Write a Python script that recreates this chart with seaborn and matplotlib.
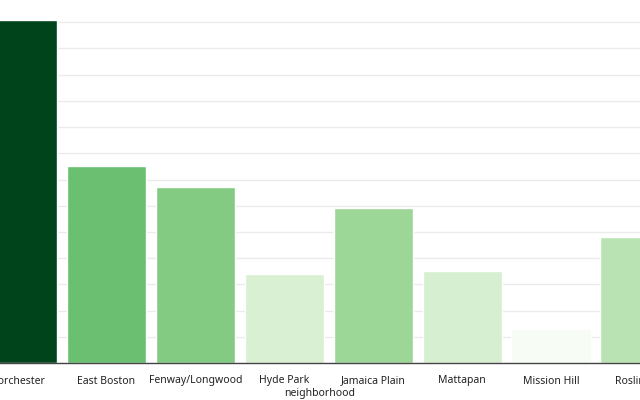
import matplotlib
matplotlib.use("Agg")
import matplotlib.pyplot as plt
import seaborn as sns
import pandas as pd

# Datos
neighborhoods = ["Dorchester", "East Boston", "Fenway/Longwood", "Hyde Park",
                 "Jamaica Plain", "Mattapan", "Mission Hill", "Roslindale"]
counts = [131, 75, 67, 34, 59, 35, 13, 48]

df = pd.DataFrame({"neighborhood": neighborhoods, "count": counts})

sns.set_style("white")
plt.rcParams["font.family"] = ["Noto Sans", "DejaVu Sans"]

fig = plt.figure(figsize=(6.4, 4), dpi=100)
ax = fig.add_axes([0, 0.0925, 1, 0.9075])

sns.barplot(data=df, x="neighborhood", y="count", hue="count",
            palette="Greens", saturation=1, legend=False, width=0.89,
            ax=ax, zorder=2)

ax.set_xlim(-0.1966, 7.0)
ax.set_ylim(0, 138.5)
ax.set_yticks(range(0, 140, 10))
ax.yaxis.grid(True, color="#ebebeb", linewidth=1, zorder=0)
ax.set_axisbelow(True)

for s in ["top", "left", "right"]:
    ax.spines[s].set_visible(False)
ax.spines["bottom"].set_color("#444444")
ax.spines["bottom"].set_linewidth(1)

ax.tick_params(axis="x", length=4, width=0.8, color="#444444",
               labelsize=7.5, labelcolor="#222222", pad=5)
ax.tick_params(axis="y", left=False, labelleft=False)
ax.set_xlabel("neighborhood", fontsize=7.5, color="#222222", labelpad=1)
ax.set_ylabel("")

fig.savefig("out.png", dpi=100)
